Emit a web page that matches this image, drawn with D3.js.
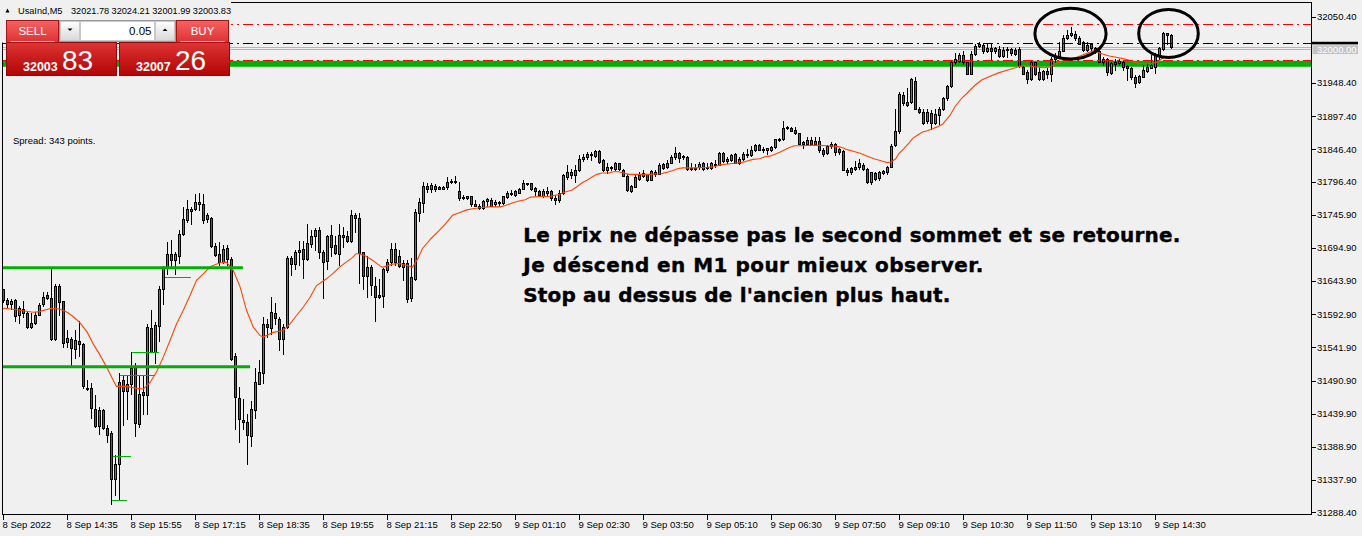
<!DOCTYPE html>
<html>
<head>
<meta charset="utf-8">
<script src="https://cdn.jsdelivr.net/npm/d3@7"></script>
<style>
body { margin: 0; background: #f0f0f0; }
svg { display: block; font-family: "Liberation Sans", Arial, sans-serif; }
</style>
</head>
<body>
<svg width="1362" height="536"></svg>
<script>
// UsaInd M5 candles, [open, high, low, close]
const candles = [
  [31631,31632,31612,31615],[31615,31618,31604,31608],[31608,31617,31601,31614],[31615,31617,31582,31590],
  [31591,31605,31579,31603],[31601,31613,31588,31595],[31595,31598,31572,31573],[31573,31595,31571,31580],
  [31580,31596,31578,31592],[31592,31610,31591,31607],[31608,31627,31606,31620],[31623,31627,31617,31618],
  [31618,31664,31554,31555],[31555,31640,31554,31636],[31637,31639,31591,31612],[31613,31614,31543,31548],
  [31550,31569,31543,31557],[31555,31558,31514,31541],[31540,31568,31525,31554],[31552,31583,31529,31547],
  [31547,31548,31480,31482],[31480,31492,31477,31478],[31480,31487,31433,31448],[31447,31468,31419,31421],
  [31421,31451,31409,31445],[31446,31447,31417,31418],[31418,31422,31396,31407],[31410,31413,31301,31340],
  [31340,31376,31315,31362],[31363,31502,31307,31488],[31492,31500,31422,31475],[31475,31499,31432,31485],
  [31485,31535,31470,31511],[31513,31518,31406,31426],[31424,31500,31419,31470],[31473,31499,31440,31469],
  [31469,31578,31440,31574],[31571,31599,31535,31535],[31535,31581,31518,31577],[31575,31637,31552,31632],
  [31632,31667,31609,31664],[31664,31704,31655,31686],[31686,31707,31664,31677],[31677,31689,31655,31685],
  [31683,31722,31671,31716],[31717,31758,31714,31740],[31738,31768,31735,31754],[31752,31758,31732,31754],
  [31754,31778,31753,31765],[31763,31780,31753,31765],[31763,31778,31733,31738],[31740,31748,31735,31745],
  [31741,31743,31696,31698],[31698,31702,31682,31684],[31685,31704,31668,31673],[31673,31699,31671,31694],
  [31695,31699,31668,31678],[31678,31681,31523,31524],[31529,31533,31417,31465],[31464,31481,31396,31432],
  [31431,31463,31417,31427],[31428,31440,31363,31407],[31406,31460,31391,31447],[31446,31511,31434,31488],
  [31486,31522,31485,31504],[31503,31588,31487,31578],[31578,31586,31558,31573],[31572,31619,31563,31597],
  [31595,31610,31578,31587],[31586,31589,31538,31555],[31555,31578,31532,31574],[31573,31683,31572,31680],
  [31680,31683,31654,31670],[31670,31691,31663,31689],[31688,31706,31668,31691],[31693,31706,31649,31678],
  [31678,31732,31676,31702],[31701,31722,31696,31713],[31713,31725,31692,31722],[31722,31727,31680,31689],
  [31688,31691,31618,31673],[31675,31714,31663,31713],[31714,31730,31682,31696],[31699,31713,31685,31687],
  [31686,31732,31668,31715],[31715,31727,31697,31712],[31713,31721,31704,31705],[31705,31753,31704,31746],
  [31745,31748,31720,31741],[31741,31748,31641,31687],[31688,31689,31631,31651],[31651,31682,31620,31666],
  [31666,31668,31623,31638],[31637,31650,31583,31619],[31623,31647,31618,31619],[31621,31664,31604,31662],
  [31661,31678,31658,31674],[31674,31702,31668,31694],[31694,31702,31668,31674],[31682,31691,31665,31667],
  [31665,31676,31646,31671],[31671,31677,31612,31617],[31618,31680,31613,31650],[31647,31755,31646,31750],
  [31749,31771,31736,31765],[31764,31796,31750,31790],[31790,31794,31781,31785],[31786,31794,31781,31792],
  [31790,31793,31782,31786],[31788,31790,31785,31786],[31786,31790,31785,31788],[31788,31804,31786,31797],
  [31796,31801,31794,31798],[31798,31805,31794,31796],[31782,31796,31768,31772],[31773,31776,31770,31772],
  [31771,31775,31770,31774],[31774,31775,31760,31763],[31760,31768,31759,31762],[31760,31762,31755,31756],
  [31757,31768,31755,31767],[31767,31772,31760,31770],[31769,31771,31759,31760],[31763,31768,31760,31766],
  [31766,31767,31760,31764],[31764,31775,31763,31774],[31773,31782,31772,31779],[31778,31784,31776,31780],
  [31777,31784,31775,31782],[31780,31787,31779,31785],[31786,31799,31785,31795],[31794,31795,31791,31793],
  [31794,31795,31784,31786],[31787,31789,31776,31782],[31782,31784,31774,31776],[31774,31785,31773,31783],
  [31780,31789,31775,31783],[31782,31784,31768,31771],[31771,31777,31763,31769],[31768,31784,31766,31780],
  [31780,31809,31778,31807],[31804,31822,31801,31811],[31811,31817,31803,31807],[31807,31822,31796,31815],
  [31814,31837,31813,31831],[31831,31840,31829,31834],[31834,31843,31831,31839],[31840,31843,31830,31837],
  [31836,31846,31835,31844],[31844,31845,31825,31827],[31830,31831,31813,31815],[31814,31825,31810,31820],
  [31820,31821,31814,31818],[31816,31827,31815,31825],[31825,31826,31815,31817],[31815,31817,31805,31806],
  [31806,31809,31782,31784],[31782,31791,31781,31790],[31789,31807,31788,31804],[31801,31812,31799,31807],
  [31806,31814,31804,31810],[31808,31809,31798,31799],[31800,31815,31799,31813],[31812,31814,31806,31809],
  [31809,31825,31808,31822],[31824,31826,31817,31818],[31819,31830,31818,31826],[31826,31837,31825,31835],
  [31835,31850,31832,31841],[31841,31843,31827,31833],[31836,31838,31831,31835],[31834,31836,31815,31816],
  [31816,31825,31815,31818],[31818,31824,31815,31816],[31819,31827,31817,31824],[31826,31827,31814,31816],
  [31818,31826,31816,31819],[31818,31827,31816,31826],[31823,31830,31820,31824],[31823,31842,31822,31841],
  [31841,31842,31827,31829],[31828,31835,31826,31832],[31830,31840,31829,31837],[31839,31841,31825,31826],
  [31826,31835,31824,31832],[31831,31843,31830,31840],[31840,31847,31835,31838],[31838,31851,31836,31845],
  [31845,31855,31844,31853],[31853,31854,31845,31846],[31847,31850,31842,31845],[31846,31849,31840,31848],
  [31846,31852,31844,31850],[31850,31863,31849,31862],[31861,31864,31859,31862],[31862,31890,31861,31880],
  [31880,31883,31878,31881],[31880,31881,31874,31875],[31876,31881,31870,31871],[31871,31872,31854,31855],
  [31857,31860,31849,31855],[31854,31865,31853,31861],[31861,31865,31853,31855],[31855,31866,31854,31860],
  [31860,31866,31842,31846],[31846,31848,31836,31840],[31841,31853,31839,31851],[31851,31858,31849,31855],
  [31855,31856,31837,31842],[31847,31849,31839,31842],[31844,31846,31814,31815],[31814,31818,31807,31811],
  [31811,31819,31809,31818],[31817,31829,31815,31820],[31819,31832,31817,31825],[31823,31826,31814,31817],
  [31816,31818,31795,31796],[31796,31812,31793,31811],[31810,31812,31800,31801],[31802,31813,31800,31811],
  [31810,31815,31808,31813],[31811,31821,31809,31820],[31820,31854,31819,31852],[31853,31909,31852,31874],
  [31874,31934,31872,31931],[31930,31935,31914,31917],[31914,31941,31913,31919],[31919,31956,31917,31954],
  [31952,31958,31908,31909],[31908,31912,31902,31904],[31904,31908,31885,31887],[31890,31909,31887,31904],
  [31903,31907,31877,31887],[31887,31909,31885,31901],[31899,31911,31885,31908],[31908,31927,31907,31925],
  [31925,31945,31923,31944],[31944,31982,31943,31981],[31980,31994,31978,31985],[31983,31994,31981,31991],
  [31991,31997,31978,31980],[31980,31981,31962,31963],[31963,31997,31962,31993],[31993,32009,31991,32005],
  [32005,32012,32004,32008],[32007,32010,31994,31997],[31998,32010,31996,32002],[32003,32009,31984,31997],
  [31998,32004,31995,32002],[32001,32005,31989,31990],[31990,32004,31988,31999],[31999,32004,31989,32001],
  [32001,32002,31992,31994],[31999,32002,31991,31993],[32001,32004,31973,31975],[31973,31974,31962,31963],
  [31966,31968,31948,31954],[31954,31983,31953,31980],[31980,31981,31961,31963],[31966,31973,31953,31954],
  [31954,31968,31953,31967],[31967,31971,31956,31963],[31962,31988,31952,31986],[31985,31994,31981,31990],
  [31990,32012,31988,31998],[31998,32022,31997,32017],[32017,32030,32016,32023],[32022,32034,32020,32025],
  [32024,32029,32015,32017],[32017,32020,32008,32009],[32011,32013,31998,31999],[31999,32012,31997,32007],
  [32008,32010,31997,32003],[32003,32004,31994,31998],[31997,31999,31980,31981],[31981,31988,31976,31986],
  [31986,31987,31961,31966],[31964,31981,31962,31979],[31980,31985,31968,31978],[31979,31985,31976,31983],
  [31981,31983,31969,31973],[31974,31976,31953,31972],[31972,31973,31954,31958],[31958,31961,31943,31949],
  [31950,31961,31948,31959],[31958,31976,31957,31968],[31967,31979,31966,31973],[31972,31991,31971,31976],
  [31973,31994,31964,31991],[31991,32004,31985,32002],[32000,32027,31999,32026],[32026,32026,32008,32022],
  [32021.78,32024.21,32001.99,32003.83]
];

// moving average read at bar positions (bar index, price)
const maIdx = [0,2,4,7.5,9,12,14,16,17.5,19,21,22.5,24,25.8,27.5,28.3,30.8,33.3,35,36.7,38.3,40,41.7,43.3,45,46.7,48.3,50,51.7,54.2,55.8,57.5,59.2,60.8,62.5,64.2,65,67.5,70,71.7,73.3,75,76.7,78.3,
  80.7,82.3,84,85.7,87.3,88.2,89,90.7,92.3,94,94.8,97.3,99,101.1,102.3,103.6,104.8,106.9,109,110.7,112.3,114,115.7,117.3,
  119.7,121.4,124.3,125.5,127.2,128.9,130.5,131.8,133.9,136.4,138.9,140.5,142.2,143.4,144.7,145.9,147.2,148.4,149.7,151.3,152.6,153.8,155.1,156.4,
  157.9,161.2,164.5,165.8,167.4,168.7,169.9,172.9,176.2,177.9,179.5,181.2,182.9,184.5,186.2,187.4,189.1,190.4,191.6,192.9,194.1,195.4,
  196.4,197.7,199.4,202.7,206,208.5,209.8,211,212.7,214.4,216,217.7,219.4,221,221.9,223.1,223.9,225.2,226.4,227.3,228.5,229.8,231,232.3,233.5,234.8,
  236.7,237.9,239.6,241.3,242.9,244.6,246.7,248.8,250.9,253,254.2,255.9,257.1,258.4,260,261.7,262.9,264.2,265.9,267.5,269.2,270.9,272.5,
  274.8,276.5,278.2,279.9,281.1,282.4,283.6,284.9,286.1,287.4,288.6,289.4,290.2];
const maVal = [31602,31601,31599,31596,31597,31602,31601,31596,31589,31581,31565,31547,31532,31512,31491,31482,31482,31479,31478,31488,31504,31527,31553,31578,31599,31622,31645,31655,31666,31672,31673,31660,31635,31599,31573,31560,31558,31565,31568,31578,31591,31604,31619,31637,
  31647,31655,31665,31673,31680,31686,31686,31682,31676,31668,31665,31670,31671,31668,31665,31678,31694,31709,31722,31733,31745,31749,31753,31755,
  31757,31758,31758,31760,31764,31767,31769,31773,31774,31774,31777,31781,31784,31789,31795,31799,31804,31808,31810,31810,31812,31812,31810,31808,
  31808,31808,31809,31811,31814,31817,31818,31818,31819,31820,31823,31824,31825,31826,31829,31831,31832,31835,31836,31839,31842,31846,
  31849,31852,31852,31853,31852,31851,31849,31846,31843,31840,31836,31832,31829,31826,31827,31832,31840,31848,31856,31863,31868,31873,31875,31878,31881,31885,
  31899,31912,31925,31935,31945,31953,31959,31964,31968,31972,31974,31976,31974,31973,31972,31973,31978,31981,31984,31986,31990,31994,31998,
  31993,31990,31988,31986,31984,31981,31979,31978,31978,31979,31981,31985,31988];

const timeLabels = ["8 Sep 2022","8 Sep 14:35","8 Sep 15:55","8 Sep 17:15","8 Sep 18:35","8 Sep 19:55","8 Sep 21:15",
  "8 Sep 22:50","9 Sep 01:10","9 Sep 02:30","9 Sep 03:50","9 Sep 05:10","9 Sep 06:30","9 Sep 07:50","9 Sep 09:10",
  "9 Sep 10:30","9 Sep 11:50","9 Sep 13:10","9 Sep 14:30"];
const labelEvery = 16;
const priceTicks = [32050.40,31948.40,31897.40,31846.40,31796.40,31745.90,31694.90,31643.90,31592.90,31541.90,
  31490.90,31439.90,31388.90,31337.90,31288.40];

// chart objects
const greenZone = [31973.4, 31982.6];
const redLevels = [32038.7, 31983.3];
const blackLevel = 32009.4;
const bidPrice = 32003.83;
const askPrice = 32007.26;
const markedPrice = 32000.00;
const thickLevelPrice = [31664.5, 31512];
const thickLevelFrom = [-0.1, -0.1];
const thickLevelTo = [59.9, 61.7];
const thinLevelPrice = [31650, 31534.5, 31499.7, 31375, 31307];
const thinLevelFrom = [40.4, 32.2, 29.2, 27.4, 27.2];
const thinLevelTo = [46.9, 38.9, 37.9, 31.9, 30.9];
const circledIdx = [266.8, 291.3];
const circledPrice = [32024.3, 32024.7];
const circledHalfBars = [8.9, 7.45];
const circledHalfPoints = [38.9, 36.9];
const noteLines = ["Le prix ne dépasse pas le second sommet et se retourne.",
  "Je déscend en M1 pour mieux observer.",
  "Stop au dessus de l'ancien plus haut."];
const noteIdx = 130, notePrice = 31704.4;
const spreadPoints = 343;
const lotSize = "0.05";
const ohlcHeader = ["UsaInd,M5", "32021.78 32024.21 32001.99 32003.83"];

const svg = d3.select("svg");
const bg = "#f0f0f0";
const plotLeft = 3, plotRight = 1311, plotTop = 2.5, plotBottom = 514.5;
const upColor = "#2d80d2", downColor = "#d62424";

const x = d3.scaleLinear().domain([0, candles.length - 1]).range([3.3, 1171.3]);
const y = d3.scaleLinear().domain([31288.4, 32050.4]).range([512.3, 16.7]);
const px = i => Math.round(x(i));
const py = v => Math.round(y(v));

svg.append("rect").attr("width", 1362).attr("height", 536).attr("fill", bg);

// filled rectangle sits behind the bars
svg.append("rect")
    .attr("x", plotLeft).attr("width", plotRight - plotLeft)
    .attr("y", y(greenZone[1])).attr("height", y(greenZone[0]) - y(greenZone[1]))
    .attr("fill", "#00b000");

// bid line and marked 32000 line
svg.selectAll(".grey-line").data([bidPrice, markedPrice]).join("line")
    .attr("class", "grey-line")
    .attr("x1", plotLeft).attr("x2", plotRight)
    .attr("y1", d => py(d) + 0.5).attr("y2", d => py(d) + 0.5)
    .attr("stroke", "#b4b4b4");

// candles
const candleG = svg.append("g").attr("shape-rendering", "crispEdges");
candleG.selectAll(".wick").data(candles).join("rect")
    .attr("class", "wick")
    .attr("x", (d, i) => px(i)).attr("width", 1)
    .attr("y", d => py(d[1]))
    .attr("height", d => py(d[2]) - py(d[1]) + 1)
    .attr("fill", "#000");

candleG.selectAll(".body").data(candles).join("rect")
    .attr("class", "body")
    .attr("x", (d, i) => px(i) - 1).attr("width", 3)
    .attr("y", d => py(Math.max(d[0], d[3])))
    .attr("height", d => Math.max(2, py(Math.min(d[0], d[3])) - py(Math.max(d[0], d[3])) + 1))
    .attr("fill", "#000");

candleG.selectAll(".fill").data(candles).join("rect")
    .attr("class", "fill")
    .attr("x", (d, i) => px(i)).attr("width", 1)
    .attr("y", d => py(Math.max(d[0], d[3])) + 1)
    .attr("height", d => Math.max(0, py(Math.min(d[0], d[3])) - py(Math.max(d[0], d[3])) - 1))
    .attr("fill", d => d[3] >= d[0] ? upColor : downColor);

// moving average
const maLine = d3.line()
    .x(d => x(d[0]))
    .y(d => y(d[1]))
    .curve(d3.curveLinear);

svg.append("path")
    .datum(maIdx.map((d, i) => [d, maVal[i]]))
    .attr("d", maLine)
    .attr("fill", "none")
    .attr("stroke", "#ff4500")
    .attr("stroke-width", 1.1);

// dash-dot levels
svg.selectAll(".red-level").data(redLevels).join("line")
    .attr("class", "red-level")
    .attr("x1", plotLeft).attr("x2", plotRight)
    .attr("y1", d => py(d) + 0.5).attr("y2", d => py(d) + 0.5)
    .attr("stroke", "#ff0000")
    .attr("stroke-dasharray", "10,4,2,4");

svg.append("line")
    .attr("x1", plotLeft).attr("x2", plotRight)
    .attr("y1", py(blackLevel) + 0.5).attr("y2", py(blackLevel) + 0.5)
    .attr("stroke", "#000")
    .attr("stroke-dasharray", "10,4,2,4");

// green trend lines on the left
svg.selectAll(".thick-level").data(thickLevelPrice).join("line")
    .attr("class", "thick-level")
    .attr("x1", (d, i) => x(thickLevelFrom[i])).attr("x2", (d, i) => x(thickLevelTo[i]))
    .attr("y1", d => y(d)).attr("y2", d => y(d))
    .attr("stroke", "#00b000")
    .attr("stroke-width", 3);

svg.selectAll(".thin-level").data(thinLevelPrice).join("line")
    .attr("class", "thin-level")
    .attr("x1", (d, i) => x(thinLevelFrom[i])).attr("x2", (d, i) => x(thinLevelTo[i]))
    .attr("y1", d => py(d) + 0.5).attr("y2", d => py(d) + 0.5)
    .attr("stroke", "#00b000")
    .attr("stroke-width", 1);

// circled tops
svg.selectAll(".circled").data(circledIdx).join("ellipse")
    .attr("class", "circled")
    .attr("cx", d => x(d))
    .attr("cy", (d, i) => y(circledPrice[i]))
    .attr("rx", (d, i) => x(d + circledHalfBars[i]) - x(d))
    .attr("ry", (d, i) => y(circledPrice[i] - circledHalfPoints[i]) - y(circledPrice[i]))
    .attr("fill", "none")
    .attr("stroke", "#000")
    .attr("stroke-width", 3);

// annotation, stretched to the widths seen in the screenshot
const noteWidths = [657, 460, 427];
svg.append("g").selectAll("text").data(noteLines).join("text")
    .attr("x", x(noteIdx))
    .attr("y", (d, i) => y(notePrice) + i * 30)
    .attr("font-family", "'DejaVu Sans', Verdana, sans-serif")
    .attr("font-size", 20)
    .attr("font-weight", "bold")
    .attr("fill", "#000")
    .attr("stroke", "#000")
    .attr("stroke-width", 0.4)
    .attr("textLength", (d, i) => noteWidths[i])
    .attr("lengthAdjust", "spacing")
    .text(d => d);

// frame
svg.append("rect")
    .attr("x", 2.5).attr("y", plotTop)
    .attr("width", plotRight + 0.5 - 2.5).attr("height", plotBottom - plotTop)
    .attr("fill", "none").attr("stroke", "#000")
    .attr("shape-rendering", "crispEdges");

// price axis
const yAxisG = svg.append("g").attr("font-size", 9.5).attr("shape-rendering", "crispEdges");
yAxisG.selectAll("line").data(priceTicks).join("line")
    .attr("x1", plotRight + 1).attr("x2", plotRight + 5)
    .attr("y1", d => py(d) + 0.5).attr("y2", d => py(d) + 0.5)
    .attr("stroke", "#000");
yAxisG.selectAll("text").data(priceTicks).join("text")
    .attr("x", plotRight + 6)
    .attr("y", d => y(d))
    .attr("dy", "0.35em")
    .attr("fill", "#000")
    .text(d => d.toFixed(2));

svg.append("rect")
    .attr("x", plotRight + 1).attr("width", 46)
    .attr("y", y(blackLevel) - 1.6).attr("height", 2.6)
    .attr("fill", "#000");
svg.append("rect")
    .attr("x", plotRight + 1.5).attr("width", 45.5)
    .attr("y", y(markedPrice) - 4.2).attr("height", 8.8)
    .attr("fill", "#c4c4c4");
svg.append("text")
    .attr("x", plotRight + 6).attr("y", y(markedPrice))
    .attr("dy", "0.35em")
    .attr("font-size", 9.5)
    .attr("fill", "#fff")
    .text(markedPrice.toFixed(2));

// time axis
const xAxisG = svg.append("g").attr("font-size", 9.5).attr("shape-rendering", "crispEdges");
xAxisG.selectAll("line").data(timeLabels).join("line")
    .attr("x1", (d, i) => px(i * labelEvery) + 0.5).attr("x2", (d, i) => px(i * labelEvery) + 0.5)
    .attr("y1", plotBottom).attr("y2", plotBottom + 5)
    .attr("stroke", "#000");
xAxisG.selectAll("text").data(timeLabels).join("text")
    .attr("x", (d, i) => px(i * labelEvery) - 0.5)
    .attr("y", 528)
    .attr("fill", "#000")
    .text(d => d);

// one click trading panel
const defs = svg.append("defs");
const btnGrad = defs.append("linearGradient").attr("id", "btn").attr("x1", 0).attr("x2", 0).attr("y1", 0).attr("y2", 1);
btnGrad.append("stop").attr("offset", "0%").attr("stop-color", "#f66262");
btnGrad.append("stop").attr("offset", "100%").attr("stop-color", "#dc3232");
const boxGrad = defs.append("linearGradient").attr("id", "box").attr("x1", 0).attr("x2", 0).attr("y1", 0).attr("y2", 1);
boxGrad.append("stop").attr("offset", "0%").attr("stop-color", "#de3434");
boxGrad.append("stop").attr("offset", "100%").attr("stop-color", "#b20404");
const greyGrad = defs.append("linearGradient").attr("id", "grey").attr("x1", 0).attr("x2", 0).attr("y1", 0).attr("y2", 1);
greyGrad.append("stop").attr("offset", "0%").attr("stop-color", "#ffffff");
greyGrad.append("stop").attr("offset", "100%").attr("stop-color", "#d8d8d8");

const panel = svg.append("g");
panel.append("rect").attr("x", 0).attr("y", 0).attr("width", 231).attr("height", 42.5).attr("fill", bg);

panel.append("path")
    .attr("d", "M5.5,12.5 L7.5,8.5 L9.5,12.5 Z")
    .attr("fill", "#000");
panel.append("text").attr("x", 18).attr("y", 14).attr("font-size", 9.2).text(ohlcHeader[0]);
panel.append("text").attr("x", 71).attr("y", 14).attr("font-size", 9.2)
    .attr("textLength", 160).attr("lengthAdjust", "spacing").text(ohlcHeader[1]);

// price boxes
const boxes = [
  { x: 6.5, w: 110, price: bidPrice, btnX: 6.5, label: "SELL" },
  { x: 119.5, w: 110, price: askPrice, btnX: 176.5, label: "BUY" }
];
boxes.forEach(b => {
    panel.append("rect")
        .attr("x", b.x).attr("y", 42.5).attr("width", b.w).attr("height", 33)
        .attr("fill", "url(#box)").attr("stroke", "#8e0a0a");
    panel.append("rect")
        .attr("x", b.btnX).attr("y", 20.5).attr("width", 52).attr("height", 22)
        .attr("fill", "url(#btn)").attr("stroke", "#a41414");
    panel.append("line")
        .attr("x1", b.btnX + 4).attr("x2", b.btnX + 48)
        .attr("y1", 41.5).attr("y2", 41.5)
        .attr("stroke", "#f8b4b4");
    panel.append("text")
        .attr("x", b.btnX + 26).attr("y", 35)
        .attr("text-anchor", "middle")
        .attr("font-size", 11.5).attr("fill", "#fff")
        .text(b.label);
    const str = b.price.toFixed(2).replace(".", "");
    panel.append("text")
        .attr("x", b.x + 16.5).attr("y", 70.5)
        .attr("font-size", 12.5).attr("font-weight", "bold").attr("fill", "#fff")
        .text(str.slice(0, 5));
    panel.append("text")
        .attr("x", b.x + 55.5).attr("y", 69.5)
        .attr("font-size", 28).attr("fill", "#fff")
        .text(str.slice(5, 7));
});

// lot size control
panel.append("rect").attr("x", 59.5).attr("y", 20.5).attr("width", 116).attr("height", 21)
    .attr("fill", "#e4e4e4").attr("stroke", "#9a9a9a");
panel.append("rect").attr("x", 60.5).attr("y", 21.5).attr("width", 19).attr("height", 19)
    .attr("fill", "url(#grey)").attr("stroke", "#c8c8c8");
panel.append("rect").attr("x", 155.5).attr("y", 21.5).attr("width", 19).attr("height", 19)
    .attr("fill", "url(#grey)").attr("stroke", "#c8c8c8");
panel.append("rect").attr("x", 80.5).attr("y", 21.5).attr("width", 74).attr("height", 19)
    .attr("fill", "#fff").attr("stroke", "#c8c8c8");
panel.append("path").attr("d", "M67.5,28.5 L72.5,28.5 L70,31 Z").attr("fill", "#000");
panel.append("path").attr("d", "M162.5,31 L167.5,31 L165,28.5 Z").attr("fill", "#000");
panel.append("text")
    .attr("x", 151.5).attr("y", 35)
    .attr("text-anchor", "end")
    .attr("font-size", 11.5).attr("fill", "#000")
    .text(lotSize);

svg.append("text")
    .attr("x", 13).attr("y", 143.5)
    .attr("font-size", 9.5).attr("fill", "#000")
    .text(`Spread: ${spreadPoints} points.`);
</script>
</body>
</html>
